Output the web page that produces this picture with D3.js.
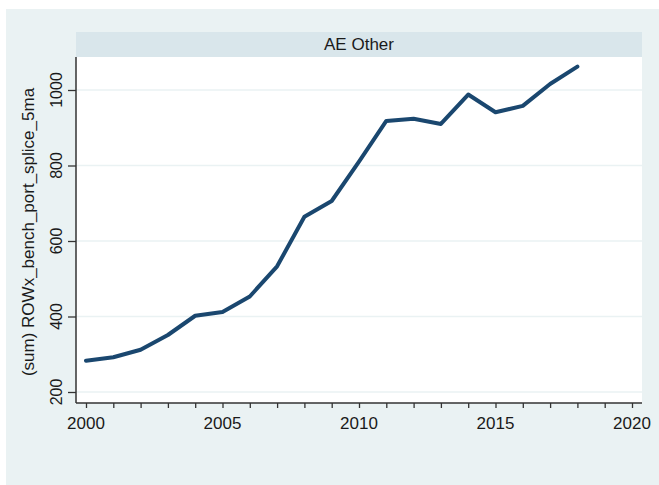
<!DOCTYPE html>
<html>
<head>
<meta charset="utf-8">
<script src="https://cdn.jsdelivr.net/npm/d3@7"></script>
<style>
  html, body { margin: 0; padding: 0; background: #ffffff; }
  svg { display: block; font-family: Arial, "Liberation Sans", sans-serif; }
</style>
</head>
<body>
<script>
/*data*/
var years = [2000, 2001, 2002, 2003, 2004, 2005, 2006, 2007, 2008, 2009,
             2010, 2011, 2012, 2013, 2014, 2015, 2016, 2017, 2018];
var values = [283, 292, 312, 351, 402, 412, 453, 533, 664, 706,
              810, 918, 924, 910, 988, 941, 958, 1016, 1062];
var yTicks = [200, 400, 600, 800, 1000];
var xMajorTicks = [2000, 2005, 2010, 2015, 2020];
var xMinorTicks = d3.range(2000, 2021);
var panelTitle = "AE Other";
var yTitle = "(sum) ROWx_bench_port_splice_5ma";

var svgWidth = 659, svgHeight = 485;
var plot = {left: 76, right: 642, top: 57, bottom: 403};

var svg = d3.select("body").append("svg")
	.attr("width", svgWidth)
	.attr("height", svgHeight);

/*graph region background*/
svg.append("rect")
	.attr("x", 6).attr("y", 9)
	.attr("width", svgWidth - 6).attr("height", svgHeight - 9)
	.attr("fill", "#eaf2f3");

/*panel strip*/
svg.append("rect")
	.attr("x", plot.left).attr("y", 32)
	.attr("width", plot.right - plot.left).attr("height", plot.top - 32)
	.attr("fill", "#d9e6eb");

svg.append("text")
	.attr("x", (plot.left + plot.right) / 2)
	.attr("y", 50)
	.attr("text-anchor", "middle")
	.style("font-size", "17px")
	.attr("fill", "#1a1a1a")
	.text(panelTitle);

/*plot area*/
svg.append("rect")
	.attr("x", plot.left).attr("y", plot.top)
	.attr("width", plot.right - plot.left).attr("height", plot.bottom - plot.top)
	.attr("fill", "#ffffff");

var x = d3.scaleLinear().domain([2000, 2020]).range([86, 632]);
var y = d3.scaleLinear().domain([200, 1000]).range([392, 90]);

/*gridlines*/
svg.append("g").selectAll("line")
	.data(yTicks)
	.enter()
	.append("line")
	  .attr("x1", plot.left).attr("x2", plot.right)
	  .attr("y1", d => y(d)).attr("y2", d => y(d))
	  .attr("stroke", "#eaf2f3")
	  .attr("stroke-width", 1.5);

/*series line*/
var line = d3.line()
	.x((d, i) => x(years[i]))
	.y(d => y(d));

svg.append("path")
	.datum(values)
	.attr("d", line)
	.attr("fill", "none")
	.attr("stroke", "#1a476f")
	.attr("stroke-width", 4)
	.attr("stroke-linejoin", "round")
	.attr("stroke-linecap", "round");

/*x axis: minor ticks every year, labels every 5*/
var xAxisG = svg.append("g")
	.attr("transform", `translate(0, ${plot.bottom})`);

xAxisG.call(d3.axisBottom(x).tickValues(xMinorTicks).tickSize(5).tickFormat(""));
xAxisG.select(".domain").remove();
xAxisG.selectAll(".tick line").attr("stroke", "#333333").attr("stroke-width", 1.3);

xAxisG.selectAll(".major")
	.data(xMajorTicks)
	.enter()
	.append("text")
	  .attr("class", "major")
	  .attr("x", d => x(d))
	  .attr("y", 26)
	  .attr("text-anchor", "middle")
	  .attr("fill", "#1a1a1a")
	  .style("font-size", "17px")
	  .text(d => d);

xAxisG.append("line")
	.attr("x1", plot.left).attr("x2", plot.right)
	.attr("y1", 0).attr("y2", 0)
	.attr("stroke", "#333333").attr("stroke-width", 1.5);

/*y axis with rotated labels*/
var yAxisG = svg.append("g")
	.attr("transform", `translate(${plot.left}, 0)`);

yAxisG.call(d3.axisLeft(y).tickValues(yTicks).tickSize(8).tickFormat(""));
yAxisG.select(".domain").remove();
yAxisG.selectAll(".tick line").attr("stroke", "#333333").attr("stroke-width", 1.3);

yAxisG.selectAll(".ylab")
	.data(yTicks)
	.enter()
	.append("text")
	  .attr("class", "ylab")
	  .attr("transform", d => `translate(-14, ${y(d)}) rotate(-90)`)
	  .attr("text-anchor", "middle")
	  .attr("fill", "#1a1a1a")
	  .style("font-size", "16px")
	  .text(d => d);

yAxisG.append("line")
	.attr("x1", 0).attr("x2", 0)
	.attr("y1", plot.top).attr("y2", plot.bottom)
	.attr("stroke", "#333333").attr("stroke-width", 1.5);

/*y axis title*/
svg.append("text")
	.attr("transform", `translate(34, 232) rotate(-90)`)
	.attr("text-anchor", "middle")
	.attr("fill", "#1a1a1a")
	.style("font-size", "17px")
	.text(yTitle);
</script>
</body>
</html>
